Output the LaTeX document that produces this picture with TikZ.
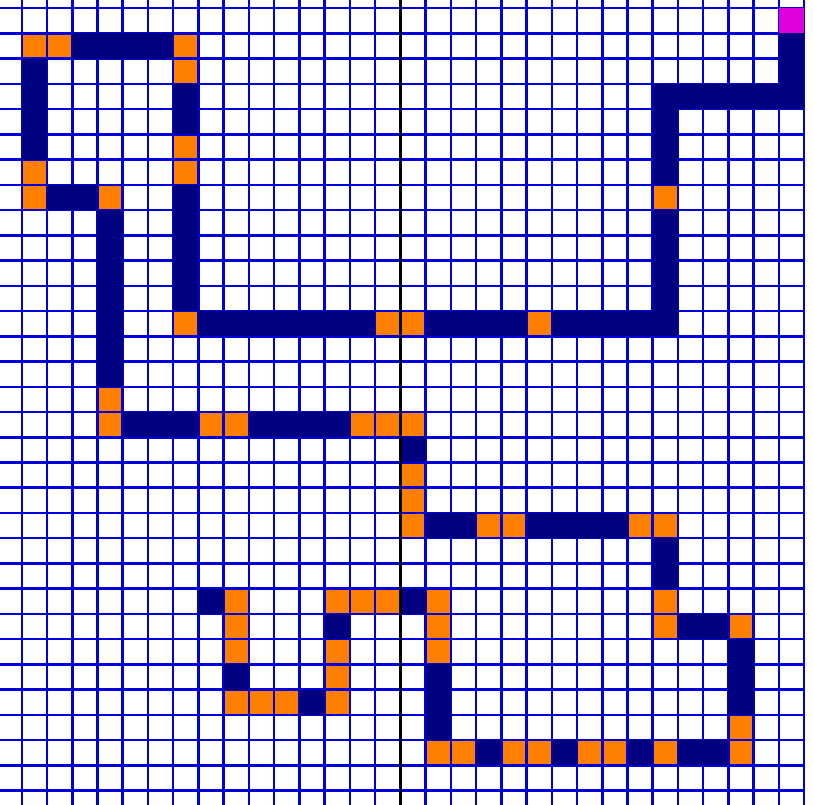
\documentclass[tikz,border=0pt]{standalone}
\definecolor{navycell}{RGB}{0,0,128}
\definecolor{orangecell}{RGB}{255,128,0}
\definecolor{gridblue}{RGB}{0,0,220}
\definecolor{magentacell}{RGB}{221,0,221}
\begin{document}
\begin{tikzpicture}[x=1cm,y=-1cm,
  navycellstyle/.style={fill=navycell},
  orangecellstyle/.style={fill=orangecell},
  magentacellstyle/.style={fill=magentacell},
  gridline/.style={draw=gridblue,line width=0.1cm},
  centerline/.style={draw=black,line width=0.12cm}]
\useasboundingbox (0.137,-0.325) rectangle (32.35,31.57);
\clip (0.137,-0.325) rectangle (32.35,31.57);
\fill[white] (0.137,-0.325) rectangle (32.35,31.57);
% orange cells
\foreach \c/\r in {26/7, 21/12, 15/12, 16/12, 7/12, 7/5, 7/6, 7/2, 7/1, 1/1, 2/1, 1/6, 1/7, 4/7,
  4/15, 4/16, 8/16, 9/16, 14/16, 15/16, 16/16, 16/18, 16/19, 16/20, 19/20, 20/20, 25/20, 26/20,
  26/23, 26/24, 29/24, 29/28, 29/29, 26/29, 23/29, 24/29, 20/29, 21/29, 17/29, 18/29,
  17/23, 17/24, 17/25, 13/23, 14/23, 15/23, 13/25, 13/26, 13/27, 9/27, 10/27, 11/27,
  9/23, 9/24, 9/25}
  \fill[orangecellstyle] (\c,\r) rectangle ++(1,1);
% grid
\foreach \i in {0,...,32} {
  \draw[gridline] (\i,-1) -- (\i,33);
  \draw[gridline] (-1,\i) -- (32,\i);
}
% navy cells
\foreach \c/\r in {31/1, 31/2, 26/3, 27/3, 28/3, 29/3, 30/3, 31/3, 26/4, 26/5, 26/6,
  26/8, 26/9, 26/10, 26/11, 26/12, 22/12, 23/12, 24/12, 25/12, 17/12, 18/12, 19/12, 20/12,
  8/12, 9/12, 10/12, 11/12, 12/12, 13/12, 14/12, 7/7, 7/8, 7/9, 7/10, 7/11, 7/3, 7/4,
  3/1, 4/1, 5/1, 6/1, 1/2, 1/3, 1/4, 1/5, 2/7, 3/7, 4/8, 4/9, 4/10, 4/11, 4/12, 4/13, 4/14,
  5/16, 6/16, 7/16, 10/16, 11/16, 12/16, 13/16, 16/17, 17/20, 18/20, 21/20, 22/20, 23/20, 24/20,
  26/21, 26/22, 27/24, 28/24, 29/25, 29/26, 29/27, 27/29, 28/29, 25/29, 22/29, 19/29,
  17/26, 17/27, 17/28, 16/23, 13/24, 12/27, 9/26, 8/23}
  \fill[navycellstyle] (\c,\r) rectangle ++(1,1);
% start cell
\fill[magentacellstyle] (31,0) rectangle (32,1);
% centre line
\draw[centerline] (16,-1) -- (16,33);
\end{tikzpicture}
\end{document}
